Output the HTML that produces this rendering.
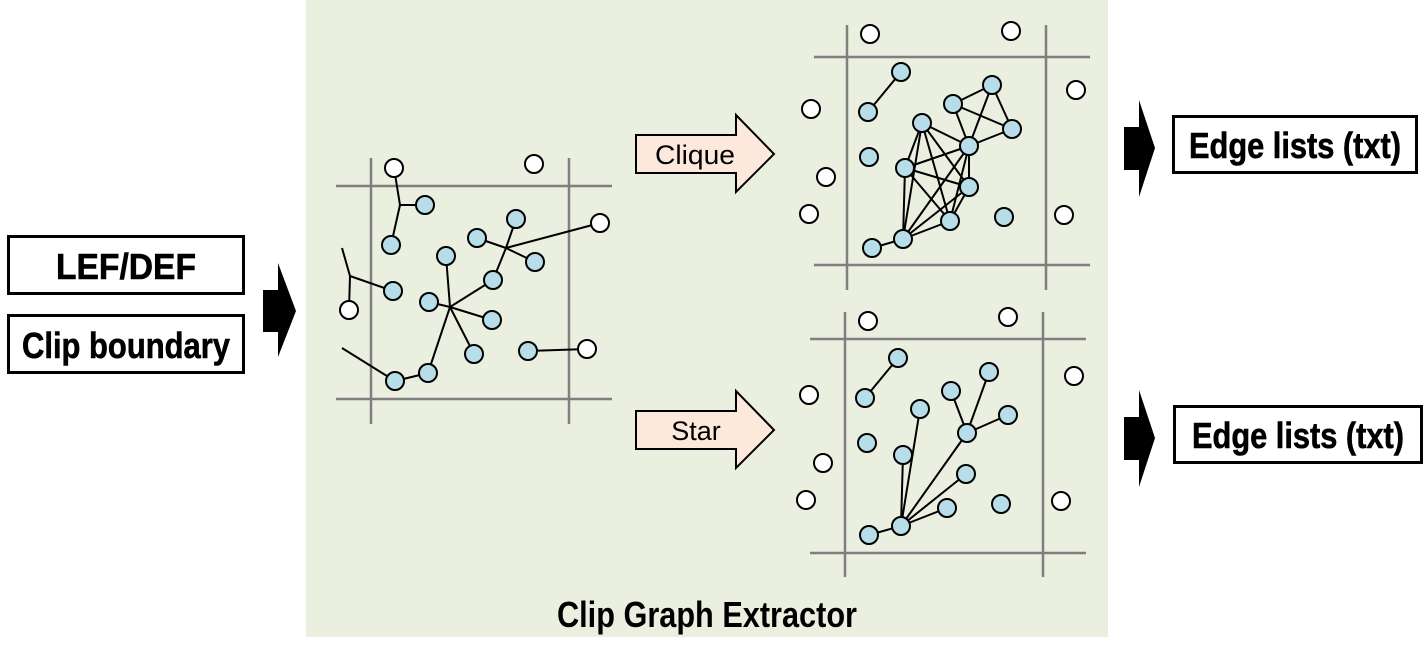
<!DOCTYPE html>
<html><head><meta charset="utf-8"><style>
html,body{margin:0;padding:0;background:#fff;}
svg{display:block;}
text{font-family:"Liberation Sans Narrow","Liberation Sans",sans-serif;}
</style></head><body>
<svg id="s" width="1427" height="657" viewBox="0 0 1427 657" xmlns="http://www.w3.org/2000/svg">
<rect x="306" y="0" width="802" height="637" fill="#ebefdf"/>
<text x="707" y="627" text-anchor="middle" font-size="36" font-weight="bold" textLength="300" lengthAdjust="spacingAndGlyphs">Clip Graph Extractor</text>

<g>
<rect x="8.5" y="236.5" width="235" height="57" fill="#fff" stroke="#000" stroke-width="3"/>
<text x="126" y="279" text-anchor="middle" font-size="36" font-weight="bold" stroke="#000" stroke-width="0.6" textLength="140" lengthAdjust="spacingAndGlyphs">LEF/DEF</text>
</g>
<g>
<rect x="8.5" y="315.5" width="235" height="57" fill="#fff" stroke="#000" stroke-width="3"/>
<text x="126" y="358" text-anchor="middle" font-size="36" font-weight="bold" stroke="#000" stroke-width="0.6" textLength="208" lengthAdjust="spacingAndGlyphs">Clip boundary</text>
</g>
<polygon points="263,290 278,290 278,263 296,311 278,357 278,332 263,332" fill="#000"/>

<g>
<polygon points="636,135 736,135 736,115 774,154 736,192 736,173 636,173" fill="#fde9dc" stroke="#000" stroke-width="2"/>
<text x="695" y="164" text-anchor="middle" font-size="27" font-family="Liberation Sans,sans-serif" textLength="80" lengthAdjust="spacingAndGlyphs">Clique</text>
</g>
<g>
<polygon points="636,411 736,411 736,391 774,430 736,468 736,449 636,449" fill="#fde9dc" stroke="#000" stroke-width="2"/>
<text x="696" y="440" text-anchor="middle" font-size="27" font-family="Liberation Sans,sans-serif">Star</text>
</g>

<polygon points="1124,127 1139,127 1139,100 1155,148 1139,197 1139,170 1124,170" fill="#000"/>
<g>
<rect x="1173.5" y="116.5" width="243" height="56" fill="#fff" stroke="#000" stroke-width="3"/>
<text x="1295" y="158" text-anchor="middle" font-size="36" font-weight="bold" stroke="#000" stroke-width="0.6" textLength="212" lengthAdjust="spacingAndGlyphs">Edge lists (txt)</text>
</g>
<polygon points="1124,417 1139,417 1139,390 1155,438 1139,487 1139,460 1124,460" fill="#000"/>
<g>
<rect x="1174.5" y="406.5" width="247" height="56" fill="#fff" stroke="#000" stroke-width="3"/>
<text x="1298" y="448" text-anchor="middle" font-size="36" font-weight="bold" stroke="#000" stroke-width="0.6" textLength="212" lengthAdjust="spacingAndGlyphs">Edge lists (txt)</text>
</g>
</svg>
<script>
// Graph 1 (raw extracted graph)
const g1Grid = [[371,158,371,424],[569,158,569,424],[336,186,612,186],[336,399,612,399]];
const g1White = [[394,168],[534,164],[600,223],[349,310],[587,349]];
const g1Blue = [[425,205],[391,245],[516,219],[477,238],[535,262],[446,256],[493,280],[393,291],[429,302],[492,320],[474,354],[528,351],[428,373],[395,381]];
const g1Edges = [[394,168,400,205],[400,205,391,245],[400,205,425,205],[342,248,350,276],[350,276,349,310],[350,276,393,291],
 [450,307,446,256],[450,307,429,302],[450,307,493,280],[450,307,492,320],[450,307,474,354],[450,307,428,373],
 [506,248,477,238],[506,248,516,219],[506,248,535,262],[506,248,600,223],[506,248,493,280],
 [342,348,395,381],[395,381,428,373],[528,351,587,349]];
// Graph 2 (clique)
const g2Grid = [[847,25,847,290],[1046,25,1046,290],[814,57,1090,57],[814,265,1090,265]];
const g2White = [[870,34],[1011,31],[1076,90],[811,109],[826,177],[809,214],[1064,215]];
const g2Blue = [[901,72],[868,112],[953,104],[992,85],[1012,129],[922,123],[969,146],[869,157],[905,168],[969,187],[950,221],[903,239],[872,248],[1004,217]];
const g2Pairs = [[901,72,868,112],[872,248,903,239]];
const g2CliqueA = [[953,104],[992,85],[1012,129],[969,146]];
const g2CliqueB = [[922,123],[905,168],[969,146],[969,187],[950,221],[903,239]];
// Graph 3 (star)
const g3Grid = [[845,312,845,577],[1043,312,1043,577],[810,339,1086,339],[810,553,1086,553]];
const g3White = [[868,321],[1008,317],[1074,376],[809,395],[823,463],[806,500],[1061,501]];
const g3Blue = [[898,358],[865,398],[920,409],[951,391],[989,372],[1008,415],[967,433],[867,443],[903,455],[966,474],[947,508],[1001,504],[901,526],[869,535]];
const g3Edges = [[898,358,865,398],[967,433,951,391],[967,433,989,372],[967,433,1008,415],
 [901,526,903,455],[901,526,920,409],[901,526,967,433],[901,526,966,474],[901,526,947,508],[901,526,869,535]];

const NS='http://www.w3.org/2000/svg';
const svg=document.getElementById('s');
function mk(tag,attrs,parent){const e=document.createElementNS(NS,tag);for(const k in attrs)e.setAttribute(k,attrs[k]);parent.appendChild(e);return e;}
function drawGraph(name,grid,edges,white,blue){
  const g=mk('g',{},svg);
  
  
  grid.forEach(l=>{
    const e=mk('line',{x1:l[0],y1:l[1],x2:l[2],y2:l[3],stroke:'#7f7f7f','stroke-width':2.5},g);
    
    
  });
  edges.forEach(l=>{
    const e=mk('line',{x1:l[0],y1:l[1],x2:l[2],y2:l[3],stroke:'#000','stroke-width':2},g);
    
    
  });
  white.forEach(p=>{
    const e=mk('circle',{cx:p[0],cy:p[1],r:9,fill:'#fff',stroke:'#000','stroke-width':2},g);
    
    
  });
  blue.forEach(p=>{
    const e=mk('circle',{cx:p[0],cy:p[1],r:9,fill:'#b7dde8',stroke:'#000','stroke-width':2},g);
    
    
  });
}
function cliqueEdges(nodes){const out=[];for(let i=0;i<nodes.length;i++)for(let j=i+1;j<nodes.length;j++)out.push([nodes[i][0],nodes[i][1],nodes[j][0],nodes[j][1]]);return out;}
drawGraph('raw-clip-graph',g1Grid,g1Edges,g1White,g1Blue);
drawGraph('clique-clip-graph',g2Grid,g2Pairs.concat(cliqueEdges(g2CliqueA),cliqueEdges(g2CliqueB)),g2White,g2Blue);
drawGraph('star-clip-graph',g3Grid,g3Edges,g3White,g3Blue);
</script>
</body></html>
